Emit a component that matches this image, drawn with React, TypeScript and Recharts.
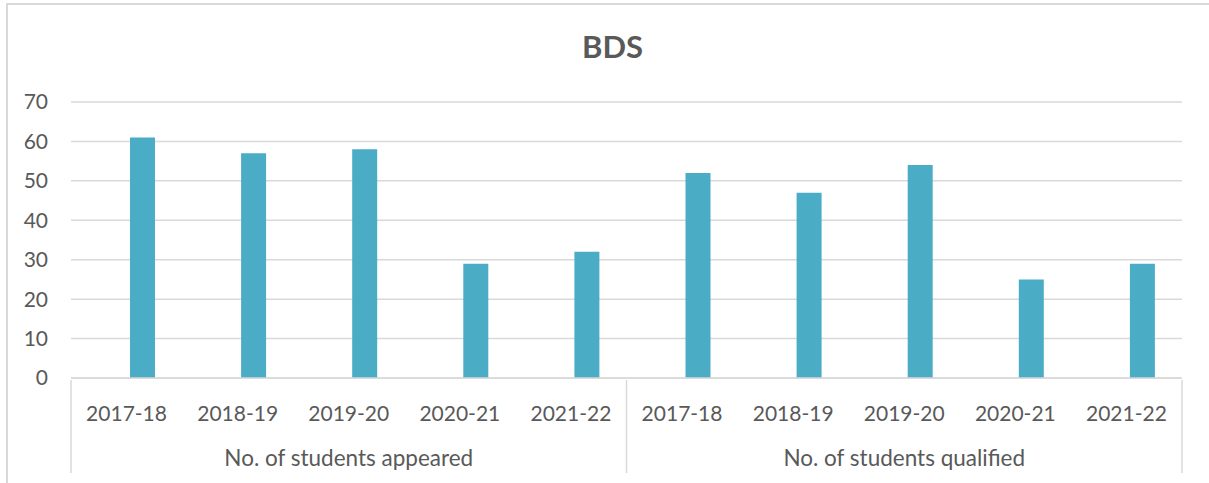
import React from "react";
import { BarChart, Bar, XAxis, YAxis, CartesianGrid } from "recharts";

const years = ["2017-18", "2018-19", "2019-20", "2020-21", "2021-22"];
const groups = ["No. of students appeared", "No. of students qualified"];
const appeared = [61, 57, 58, 29, 32];
const qualified = [52, 47, 54, 25, 29];
const yTicks = [0, 10, 20, 30, 40, 50, 60, 70];

const data = [
  ...years.map((y, i) => ({ year: y, group: groups[0], value: appeared[i], pad: null })),
  ...years.map((y, i) => ({ year: y, group: groups[1], value: qualified[i], pad: null })),
];

const W = 1209;
const H = 483;
const M = { top: 102, right: 27, left: 0, bottom: 0 };
const Y_W = 71;
const X_H = 105;
const plotW = W - M.right - Y_W;
const band = plotW / data.length;
const FONT = "Lato, 'Open Sans', sans-serif";
const TXT = "#595959";
const LINE = "#D9D9D9";

const CatTick = (props: any) => {
  const { x, y, index, payload } = props;
  const per = years.length;
  const els: any[] = [];
  els.push(
    <text key="t" x={x} y={y + 32} textAnchor="middle" dominantBaseline="central" fill={TXT} fontSize={21} fontFamily={FONT}>
      {payload.value}
    </text>
  );
  if (index % per === Math.floor(per / 2)) {
    els.push(
      <text key="g" x={x} y={y + 77} textAnchor="middle" dominantBaseline="central" fill={TXT} fontSize={22.5} fontFamily={FONT}>
        {data[index].group}
      </text>
    );
  }
  if (index % per === 0) {
    els.push(<line key="l" x1={x - band / 2} x2={x - band / 2} y1={y} y2={y + 93} stroke={LINE} strokeWidth={1.5} />);
  }
  if (index === data.length - 1) {
    els.push(<line key="r" x1={x + band / 2} x2={x + band / 2} y1={y} y2={y + 93} stroke={LINE} strokeWidth={1.5} />);
  }
  return <g>{els}</g>;
};

export default function App() {
  return (
    <div style={{ position: "absolute", left: 0, top: 0, width: W, height: H, overflow: "hidden", background: "#fff" }}>
      <div
        style={{
          position: "absolute",
          left: 6,
          top: 3,
          width: W + 20,
          height: H + 20,
          border: `2px solid ${LINE}`,
          boxSizing: "border-box",
        }}
      />
      <div
        style={{
          position: "absolute",
          left: 8,
          width: W,
          top: 28,
          textAlign: "center",
          fontFamily: FONT,
          fontWeight: 700,
          fontSize: 31,
          color: TXT,
          lineHeight: "36px",
        }}
      >
        BDS
      </div>
      <div style={{ position: "absolute", left: 0, top: 0 }}>
        <BarChart width={W} height={H} data={data} margin={M} barSize={25} barGap={7} barCategoryGap={0}>
          <CartesianGrid vertical={false} stroke={LINE} strokeWidth={1.5} />
          <XAxis
            dataKey="year"
            interval={0}
            height={X_H}
            axisLine={{ stroke: LINE, strokeWidth: 1.5 }}
            tickLine={false}
            tickSize={0}
            tick={<CatTick />}
            allowDuplicatedCategory
          />
          <YAxis
            width={Y_W}
            domain={[0, 70]}
            ticks={yTicks}
            axisLine={false}
            tickLine={false}
            tickSize={0}
            tickMargin={23}
            tick={{ fill: TXT, fontSize: 21, fontFamily: FONT }}
          />
          <Bar dataKey="pad" fill="transparent" isAnimationActive={false} />
          <Bar dataKey="value" fill="#4BACC6" isAnimationActive={false} />
        </BarChart>
      </div>
    </div>
  );
}
